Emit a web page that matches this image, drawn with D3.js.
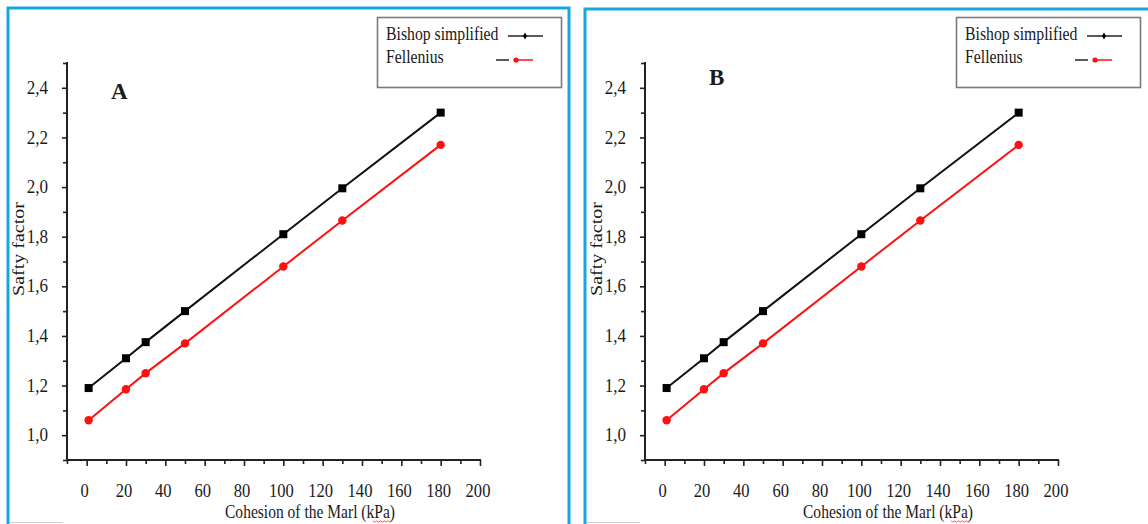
<!DOCTYPE html>
<html><head><meta charset="utf-8">
<script src="https://cdn.jsdelivr.net/npm/d3@7"></script>
<style>
html,body{margin:0;padding:0;background:#fff;}
svg{display:block;}
text{font-family:"Liberation Serif","Times New Roman",serif;fill:#1a1a1a;}
</style></head>
<body>
<svg id="chart" width="1148" height="524"></svg>
<script>
// ---- data ----
const cohesion = [1, 20, 30, 50, 100, 130, 180];
const bishop = [1.19, 1.31, 1.375, 1.50, 1.81, 1.995, 2.30];
const fellenius = [1.06, 1.185, 1.25, 1.37, 1.68, 1.865, 2.17];
const yMajorTicks = [1.0, 1.2, 1.4, 1.6, 1.8, 2.0, 2.2, 2.4];
const yTickLabels = ["1,0", "1,2", "1,4", "1,6", "1,8", "2,0", "2,2", "2,4"];
const xMajorTicks = [0, 20, 40, 60, 80, 100, 120, 140, 160, 180, 200];
const xTickLabels = ["0", "20", "40", "60", "80", "100", "120", "140", "160", "180", "200"];
const seriesNames = ["Bishop simplified", "Fellenius"];
const panelLetters = ["A", "B"];
const xTitle = "Cohesion of the Marl (kPa)";
const yTitle = "Safty factor";

const svg = d3.select("#chart");
const blue = "#16a6e0";

// panel configuration (layout only)
const panels = [
  {letter: panelLetters[0], dx: 0, border: {x: 8, y: 8, w: 561}, letterPos: [111, 99], legendDx: 0},
  {letter: panelLetters[1], dx: 578, border: {x: 585, y: 9, w: 700}, letterPos: [709, 85], legendDx: 579}
];

function condensed(sel, x, y, sx) {
  sel.attr("transform", `translate(${x},${y}) scale(${sx},1)`);
}

panels.forEach(p => {
  // blue frame
  svg.append("rect")
    .attr("x", p.border.x).attr("y", p.border.y)
    .attr("width", p.border.w).attr("height", 700)
    .attr("fill", "none").attr("stroke", blue).attr("stroke-width", 3);
  // faint grey line at the bottom
  svg.append("line")
    .attr("x1", p.border.x + 2).attr("x2", p.border.x + 55)
    .attr("y1", 522.5).attr("y2", 522.5)
    .attr("stroke", "#cfcfcf").attr("stroke-width", 1);

  const g = svg.append("g").attr("transform", `translate(${p.dx},0)`);
  const x = d3.scaleLinear().domain([-10, 200]).range([67, 480]);
  const y = d3.scaleLinear().domain([0.9, 2.5]).range([460, 63]);

  // Y axis
  const yMinor = d3.range(9, 26, 2).map(v => v / 10);
  g.append("g").attr("transform", `translate(${x(-10)},0)`)
    .call(d3.axisLeft(y).tickValues(yMinor).tickSize(4).tickFormat(""))
    .call(a => { a.select(".domain").remove(); a.selectAll("line").attr("stroke", "#222").attr("stroke-width", 1.6); });
  g.append("g").attr("transform", `translate(${x(-10)},0)`)
    .call(d3.axisLeft(y).tickValues(yMajorTicks).tickSize(5).tickFormat(""))
    .call(a => { a.select(".domain").remove(); a.selectAll("line").attr("stroke", "#222").attr("stroke-width", 1.6); });
  g.append("line").attr("x1", x(-10)).attr("x2", x(-10)).attr("y1", y(2.5) - 1).attr("y2", y(0.9))
    .attr("stroke", "#222").attr("stroke-width", 2);
  yMajorTicks.forEach((v, i) => {
    g.append("text").text(yTickLabels[i])
      .attr("text-anchor", "end").attr("font-size", 18).attr("dy", "0.34em")
      .call(s => condensed(s, 48, y(v), 0.95));
  });

  // X axis
  const xMinor = d3.range(-10, 201, 20);
  g.append("g").attr("transform", `translate(0,${y(0.9)})`)
    .call(d3.axisBottom(x).tickValues(xMinor).tickSize(4).tickFormat(""))
    .call(a => { a.select(".domain").remove(); a.selectAll("line").attr("stroke", "#222").attr("stroke-width", 1.6); });
  g.append("g").attr("transform", `translate(0,${y(0.9)})`)
    .call(d3.axisBottom(x).tickValues(xMajorTicks).tickSize(6).tickFormat(""))
    .call(a => { a.select(".domain").remove(); a.selectAll("line").attr("stroke", "#222").attr("stroke-width", 1.6); });
  g.append("line").attr("x1", x(-10) - 1).attr("x2", x(200) + 1).attr("y1", y(0.9)).attr("y2", y(0.9))
    .attr("stroke", "#222").attr("stroke-width", 2);
  xMajorTicks.forEach((v, i) => {
    g.append("text").text(xTickLabels[i])
      .attr("text-anchor", "middle").attr("font-size", 18)
      .call(s => condensed(s, x(v) - 2, 497, 0.92));
  });

  // axis titles
  g.append("text").text(xTitle).attr("text-anchor", "middle").attr("font-size", 18.5)
    .call(s => condensed(s, 310, 518, 0.84));
  // spell-check squiggle under kPa
  const sq = d3.range(0, 11).map(i => [373 + i * 1.9, 521 + (i % 2 ? 1.2 : -0.2)]);
  g.append("path").attr("d", d3.line()(sq)).attr("fill", "none").attr("stroke", "#e33").attr("stroke-width", 0.8);
  g.append("text").text(yTitle).attr("text-anchor", "middle").attr("font-size", 20)
    .attr("transform", `translate(24,249) rotate(-90) scale(1,0.8)`);

  // series
  const pts = s => cohesion.map((c, i) => [x(c), y(s[i])]);
  const line = d3.line();
  g.append("path").attr("d", line(pts(bishop))).attr("fill", "none").attr("stroke", "#111").attr("stroke-width", 2);
  g.append("path").attr("d", line(pts(fellenius))).attr("fill", "none").attr("stroke", "#ff1010").attr("stroke-width", 2);
  g.selectAll(".sq").data(cohesion).enter().append("rect")
    .attr("x", (d, i) => x(d) - 4).attr("y", (d, i) => y(bishop[i]) - 4)
    .attr("width", 8).attr("height", 8).attr("fill", "#000");
  g.selectAll(".ci").data(cohesion).enter().append("circle")
    .attr("cx", d => x(d)).attr("cy", (d, i) => y(fellenius[i])).attr("r", 4.2).attr("fill", "#ff1010");

  // panel letter
  svg.append("text").text(p.letter).attr("x", p.letterPos[0]).attr("y", p.letterPos[1])
    .attr("font-size", 23).attr("font-weight", "bold").attr("fill", "#000");

  // legend
  const lg = svg.append("g").attr("transform", `translate(${p.legendDx},0)`);
  lg.append("rect").attr("x", 377.5).attr("y", 17.5).attr("width", 184).attr("height", 70)
    .attr("fill", "#fff").attr("stroke", "#7a7a7a").attr("stroke-width", 1.6);
  lg.append("text").text(seriesNames[0]).attr("font-size", 19).call(s => condensed(s, 386, 40, 0.83));
  lg.append("text").text(seriesNames[1]).attr("font-size", 19).call(s => condensed(s, 386, 63, 0.83));
  lg.append("line").attr("x1", 508).attr("x2", 543).attr("y1", 36).attr("y2", 36).attr("stroke", "#222").attr("stroke-width", 1.5);
  lg.append("path").attr("d", d3.symbol(d3.symbolDiamond, 14)()).attr("transform", "translate(525,36)").attr("fill", "#000");
  lg.append("line").attr("x1", 496).attr("x2", 509).attr("y1", 60).attr("y2", 60).attr("stroke", "#222").attr("stroke-width", 1.5);
  lg.append("line").attr("x1", 515).attr("x2", 533).attr("y1", 60).attr("y2", 60).attr("stroke", "#ff1010").attr("stroke-width", 1.5);
  lg.append("circle").attr("cx", 516).attr("cy", 60).attr("r", 2.6).attr("fill", "#ff1010");
});
</script>
</body></html>
